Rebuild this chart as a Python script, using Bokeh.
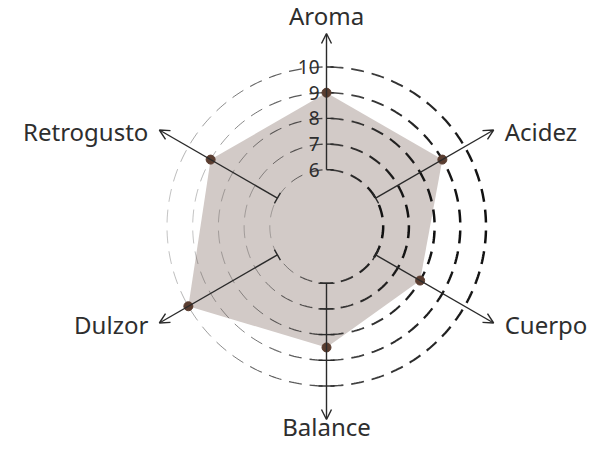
import numpy as np
from bokeh.plotting import figure
from bokeh.models import ColumnDataSource, Range1d, Arrow, OpenHead
from bokeh.embed import file_html
from bokeh.resources import INLINE
from bokeh.core.properties import value

# ---- data ----
categories = ["Aroma", "Acidez", "Cuerpo", "Balance", "Dulzor", "Retrogusto"]
scores = [9, 9, 8, 8.5, 10, 9]
ring_values = [6, 7, 8, 9, 10]
tick_labels = ["6", "7", "8", "9", "10"]

# ---- radial scale (pixels in data space, centre at 0,0) ----
V_MIN = 6
R0 = 56.7          # radius of value 6
PX_PER_UNIT = 25.7
AXIS_END = 193.0   # arrow tip radius
FONT = "Noto Sans"
TXT = "#2e2e2e"
CX, CY = 326.0, 226.0   # centre position inside the canvas


def rad(v):
    return R0 + (v - V_MIN) * PX_PER_UNIT


n = len(categories)
angles = [np.pi / 2 - i * 2 * np.pi / n for i in range(n)]

W, H = 594, 444
p = figure(width=W, height=H, output_backend="svg", toolbar_location=None,
           x_range=Range1d(-CX, W - CX), y_range=Range1d(CY - H, CY),
           x_axis_type=None, y_axis_type=None, min_border=0)
p.outline_line_color = None
p.grid.visible = False

# filled polygon
px = [rad(s) * np.cos(a) for s, a in zip(scores, angles)]
py = [rad(s) * np.sin(a) for s, a in zip(scores, angles)]
p.patch(px, py, fill_color="#d2cac7", line_color=None)

# dashed rings with varying stroke weight
xs, ys, ws, als = [], [], [], []
for v in ring_values:
    R = rad(v)
    nd = int(round(2 * np.pi * R / 21.0))
    step = 2 * np.pi / nd
    dang = 13.0 / R
    for k in range(nd):
        t0 = np.pi / 2 + 0.5 * step + k * step - dang / 2
        t = np.linspace(t0, t0 + dang, 6)
        tm = t0 + dang / 2
        c = np.cos(tm)
        xs.append(list(R * np.cos(t)))
        ys.append(list(R * np.sin(t)))
        ws.append(1.5 + 1.0 * c)
        als.append(0.5 + 0.5 * (1 + c) / 2)
p.multi_line(xs=xs, ys=ys, line_width=ws, line_alpha=als, line_color="#111111")

# axes with arrows
for a in angles:
    ca, sa = np.cos(a), np.sin(a)
    p.add_layout(Arrow(x_start=R0 * ca, y_start=R0 * sa,
                       x_end=AXIS_END * ca, y_end=AXIS_END * sa,
                       line_color="#2a2a2a", line_width=1.4,
                       end=OpenHead(size=10, line_color="#2a2a2a", line_width=1.4)))

# ticks
tx0, ty0, tx1, ty1 = [], [], [], []
for i, a in enumerate(angles):
    ca, sa = np.cos(a), np.sin(a)
    nx, ny = -sa, ca  # perpendicular
    if categories[i] == "Aroma":
        for v in ring_values:
            R = rad(v)
            tx0.append(0); ty0.append(R); tx1.append(7); ty1.append(R)
    elif categories[i] == "Balance":
        for v in ring_values:
            R = rad(v)
            tx0.append(-8); ty0.append(-R); tx1.append(8); ty1.append(-R)
    else:
        R = rad(ring_values[0])
        tx0.append(R * ca - 6 * nx); ty0.append(R * sa - 6 * ny)
        tx1.append(R * ca + 6 * nx); ty1.append(R * sa + 6 * ny)
p.segment(x0=tx0, y0=ty0, x1=tx1, y1=ty1, line_color="#2a2a2a", line_width=1.4)

# radial tick labels on the Aroma axis
p.text(x=[-7] * len(ring_values), y=[rad(v) for v in ring_values], text=tick_labels,
       text_align="right", text_baseline="middle", text_font=value(FONT),
       text_font_size="19px", text_color=TXT)

# data points
p.scatter(px, py, size=9, fill_color="#5a3d30", line_color="#5a3d30")

# category labels
lx, ly, la, lb, lxo, lyo = [], [], [], [], [], []
for a in angles:
    ca, sa = np.cos(a), np.sin(a)
    lx.append(AXIS_END * ca)
    ly.append(AXIS_END * sa)
    if ca > 0.1:
        la.append("left"); lxo.append(11); lb.append("middle"); lyo.append(1)
    elif ca < -0.1:
        la.append("right"); lxo.append(-11); lb.append("middle"); lyo.append(1)
    elif sa > 0:
        la.append("center"); lxo.append(0); lb.append("alphabetic"); lyo.append(-18)
    else:
        la.append("center"); lxo.append(0); lb.append("alphabetic"); lyo.append(7)
src = ColumnDataSource(dict(x=lx, y=ly, t=categories, a=la, b=lb, xo=lxo, yo=lyo))
p.text(x="x", y="y", text="t", source=src, text_align="a", text_baseline="b",
       x_offset="xo", y_offset="yo", text_font=value(FONT),
       text_font_size="24px", text_color=TXT)

open("out.html", "w").write(file_html(p, INLINE))
